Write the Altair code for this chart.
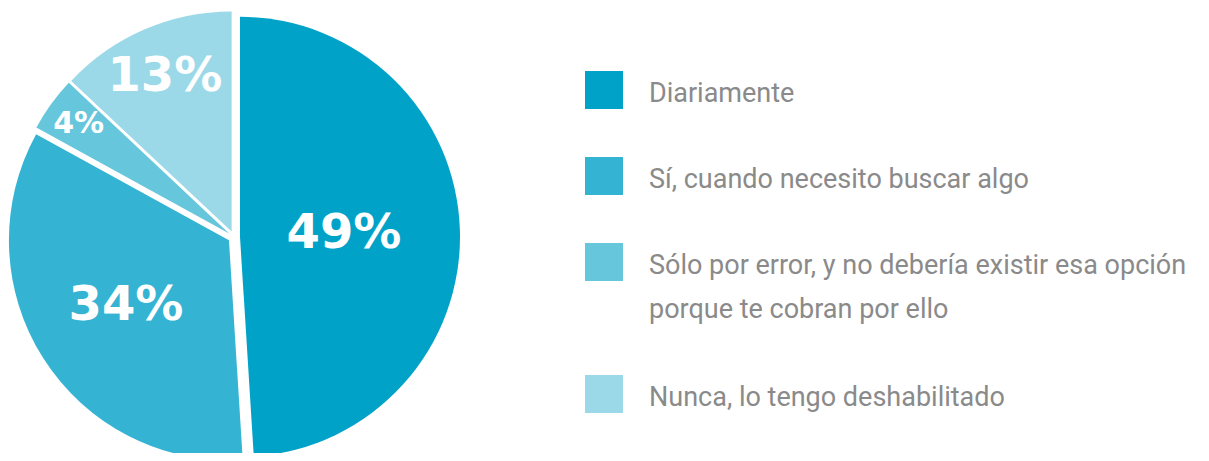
import math
import altair as alt
import pandas as pd

# ---- data ----
categories = [
    "Diariamente",
    "Sí, cuando necesito buscar algo",
    "Sólo por error, y no debería existir esa opción\nporque te cobran por ello",
    "Nunca, lo tengo deshabilitado",
]
values = [49, 34, 4, 13]
colors = ["#00A2C8", "#35B3D3", "#66C6DC", "#9BD9E8"]

# ---- layout / style ----
CX, CY, R = 226, 229, 220
EXPLODE = 6
label_radius = [104, 122, 186, 168]
label_size = [48, 48, 30, 48]
LEG_SQ_X, LEG_TXT_X = 596, 641
LEG_Y0, LEG_STEP, LEG_LINE = 82, 86, 46
TXT_DY = 12

rows = []
acc = 0
extra = 0
for i, (c, v) in enumerate(zip(categories, values)):
    s, e = acc, acc + v
    acc = e
    mid = (s + v / 2) / 100 * 2 * math.pi
    ox = CX + EXPLODE * math.sin(mid)
    oy = CY - EXPLODE * math.cos(mid)
    sq_y = LEG_Y0 + LEG_STEP * i + LEG_LINE * extra
    rows.append(
        dict(
            cat=c,
            value=v,
            start=s,
            end=e,
            ox=ox,
            oy=oy,
            lx=ox + label_radius[i] * math.sin(mid),
            ly=oy - label_radius[i] * math.cos(mid),
            pct=f"{v}%",
            fs=label_size[i],
            sq_y=sq_y,
            txt_y=sq_y + TXT_DY,
        )
    )
    extra += c.count("\n")

df = pd.DataFrame(rows)
base = alt.Chart(df)

color = alt.Color("cat:N", scale=alt.Scale(domain=categories, range=colors), legend=None)
theta_scale = alt.Scale(domain=[0, 100])

arcs = base.mark_arc(outerRadius=R, stroke=None).encode(
    x=alt.X("ox:Q", scale=None),
    y=alt.Y("oy:Q", scale=None),
    theta=alt.Theta("start:Q", scale=theta_scale),
    theta2="end:Q",
    color=color,
)

labels = base.mark_text(
    font="DejaVu Sans", fontWeight="bold", color="white", align="center", baseline="middle"
).encode(
    x=alt.X("lx:Q", scale=None),
    y=alt.Y("ly:Q", scale=None),
    text="pct:N",
    size=alt.Size("fs:Q", scale=None),
)

squares = base.mark_square(size=38 * 38, opacity=1, filled=True).encode(
    x=alt.value(LEG_SQ_X),
    y=alt.Y("sq_y:Q", scale=None),
    color=color,
)

leg_text = base.mark_text(
    font="Roboto",
    fontSize=27,
    color="#8A8A8A",
    align="left",
    baseline="alphabetic",
    lineBreak="\n",
    lineHeight=44,
).encode(
    x=alt.value(LEG_TXT_X),
    y=alt.Y("txt_y:Q", scale=None),
    text="cat:N",
)

chart = (
    alt.layer(arcs, labels, squares, leg_text)
    .properties(width=1193, height=445, autosize=alt.AutoSizeParams(type="none"), padding=0)
    .configure_view(stroke=None)
)

chart.save("out.html", embed_options={"renderer": "svg", "actions": False})
